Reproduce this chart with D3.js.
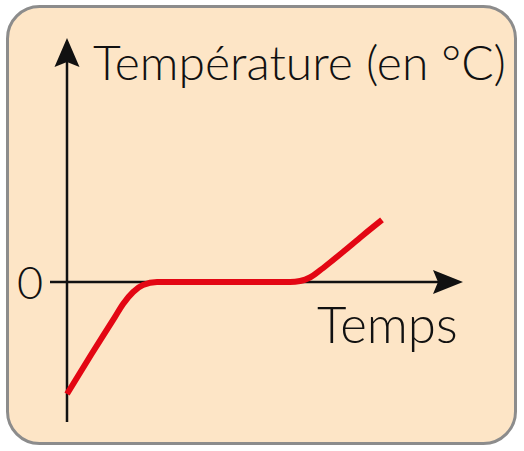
<!DOCTYPE html>
<html>
<head>
<meta charset="utf-8">
<script src="https://cdn.jsdelivr.net/npm/d3@7"></script>
<style>
  html, body { margin: 0; padding: 0; background: #ffffff; }
  svg { display: block; }
  text { font-family: Lato, "Open Sans", sans-serif; font-weight: 300; fill: #111; }
</style>
</head>
<body>
<svg id="chart" width="524" height="451"></svg>
<script>
// ---- data ----
const times = [0, 0.76, 1.52, 1.78, 2.10, 2.41, 2.86, 7.08, 7.40, 7.71, 8.03, 8.35, 8.76, 9.37, 10];
const temps = [-10, -6.52, -3.13, -1.96, -0.89, -0.27, 0, 0, 0.09, 0.40, 1.03, 1.74, 2.68, 4.11, 5.54];
const yTicks = [0];
const yTickLabels = ["0"];
const xLabel = "Temps";
const yLabel = "Température (en °C)";

const svg = d3.select("#chart");

// background card
svg.append("rect")
  .attr("x", 7.5).attr("y", 6.5)
  .attr("width", 508).attr("height", 437)
  .attr("rx", 32).attr("ry", 32)
  .attr("fill", "#fde5c6")
  .attr("stroke", "#8c8c8c")
  .attr("stroke-width", 3);

// scales
const x = d3.scaleLinear().domain([0, 10]).range([67, 382]);
const y = d3.scaleLinear().domain([-10, 10]).range([394, 170]);

const axisColor = "#111";
const y0 = y(0), x0 = x(0);

// axis lines
svg.append("line")
  .attr("x1", x0).attr("x2", x0)
  .attr("y1", 422).attr("y2", 60)
  .attr("stroke", axisColor).attr("stroke-width", 2.5);
svg.append("line")
  .attr("x1", 50).attr("x2", 440)
  .attr("y1", y0).attr("y2", y0)
  .attr("stroke", axisColor).attr("stroke-width", 2.5);

// arrowheads
svg.append("path")
  .attr("d", `M${x0},38 L${x0 + 12.5},67 L${x0},62 L${x0 - 12.5},67 Z`)
  .attr("fill", axisColor);
svg.append("path")
  .attr("d", `M463,${y0} L433,${y0 - 12} L438,${y0} L433,${y0 + 12} Z`)
  .attr("fill", axisColor);

// tick label via d3 axis
const yAxis = d3.axisLeft(y).tickValues(yTicks).tickSize(0).tickPadding(0)
  .tickFormat((d, i) => yTickLabels[i]);
const gy = svg.append("g").attr("transform", `translate(43,0)`).call(yAxis);
gy.select(".domain").remove();
gy.selectAll("text")
  .style("font-family", "Lato, 'Open Sans', sans-serif")
  .style("font-weight", 300)
  .attr("font-size", 45).attr("fill", "#111").attr("dy", "0.36em");

// axis titles
svg.append("text")
  .attr("x", 93).attr("y", 80)
  .attr("font-size", 48)
  .text(yLabel);
svg.append("text")
  .attr("x", 317).attr("y", 343)
  .attr("font-size", 51)
  .text(xLabel);

// curve
const data = times.map((t, i) => ({t, v: temps[i]}));
const line = d3.line().x(d => x(d.t)).y(d => y(d.v)).curve(d3.curveMonotoneX);
svg.append("path")
  .datum(data)
  .attr("d", line)
  .attr("fill", "none")
  .attr("stroke", "#e30613")
  .attr("stroke-width", 6);
</script>
</body>
</html>
